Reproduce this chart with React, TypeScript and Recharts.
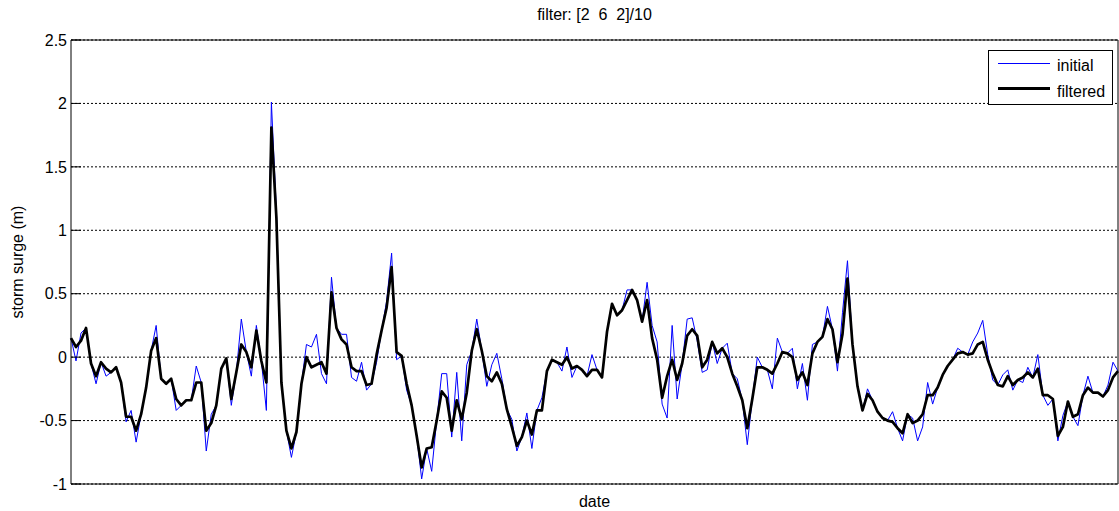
import React from 'react';
import { LineChart, Line, XAxis, YAxis, CartesianGrid, Legend, Label } from 'recharts';

const FONT = '"Liberation Sans", Arial, Helvetica, sans-serif';

const chartTitle = 'filter: [2  6  2]/10';
const xAxisTitle = 'date';
const yAxisTitle = 'storm surge (m)';
const seriesNames = ['initial', 'filtered'];
const yTicks = [-1, -0.5, 0, 0.5, 1, 1.5, 2, 2.5];

// raw storm surge (m), one value per sample
const initialSurge = [
  0.15, -0.03, 0.19, 0.23, -0.05, -0.21, -0.04, -0.15, -0.12, -0.08,
  -0.2, -0.51, -0.42, -0.67, -0.45, -0.24, 0.05, 0.25, -0.17, -0.21,
  -0.17, -0.42, -0.38, -0.34, -0.34, -0.07, -0.2, -0.74, -0.45, -0.38,
  -0.09, -0.01, -0.38, -0.12, 0.3, 0.04, -0.15, 0.25, -0.03, -0.42,
  2.01, 1.15, -0.2, -0.58, -0.79, -0.59, -0.21, 0.1, 0.08, 0.18,
  -0.13, -0.21, 0.63, 0.23, 0.18, 0.18, -0.16, -0.19, -0.04, -0.26,
  -0.21, -0.04, 0.21, 0.44, 0.82, -0.02, 0.01, -0.26, -0.38, -0.62,
  -0.96, -0.72, -0.9, -0.5, -0.13, -0.13, -0.63, -0.12, -0.66, -0.06,
  0.05, 0.3, 0.05, -0.23, -0.06, 0.03, -0.17, -0.41, -0.49, -0.74,
  -0.63, -0.44, -0.72, -0.42, -0.32, -0.11, -0.02, -0.04, -0.11, 0.08,
  -0.16, -0.07, -0.1, -0.15, 0.02, -0.1, -0.16, 0.2, 0.42, 0.33,
  0.37, 0.53, 0.53, 0.45, 0.28, 0.59, 0.25, 0.12, -0.37, -0.48,
  0.25, -0.33, -0.05, 0.3, 0.31, 0.13, -0.12, -0.1, 0.12, -0.05,
  0.07, 0.11, -0.13, -0.17, -0.34, -0.69, -0.33, 0.0, -0.08, -0.1,
  -0.25, 0.15, 0.04, 0.03, 0.07, -0.25, -0.05, -0.34, 0.1, 0.12,
  0.16, 0.4, 0.22, -0.11, 0.35, 0.76, 0.1, -0.23, -0.42, -0.25,
  -0.34, -0.43, -0.48, -0.5, -0.43, -0.56, -0.66, -0.45, -0.48, -0.66,
  -0.55, -0.2, -0.37, -0.24, -0.14, -0.07, -0.02, 0.07, 0.04, 0.02,
  0.12, 0.19, 0.29, 0.02, -0.18, -0.22, -0.14, -0.1, -0.26, -0.18,
  -0.2, -0.08, -0.16, 0.02, -0.3, -0.38, -0.33, -0.66, -0.46, -0.35,
  -0.47, -0.54, -0.3, -0.15, -0.28, -0.28, -0.31, -0.22, -0.04, -0.11,
];

// filtered storm surge (m), one value per sample
const filteredSurge = [
  0.15, 0.08, 0.13, 0.23, -0.05, -0.15, -0.04, -0.09, -0.12, -0.08,
  -0.2, -0.47, -0.47, -0.58, -0.45, -0.24, 0.05, 0.15, -0.17, -0.21,
  -0.17, -0.33, -0.38, -0.34, -0.34, -0.2, -0.2, -0.58, -0.52, -0.38,
  -0.09, -0.01, -0.33, -0.12, 0.1, 0.04, -0.08, 0.21, -0.03, -0.2,
  1.81, 1.1, -0.2, -0.58, -0.72, -0.59, -0.21, 0.0, -0.08, -0.06,
  -0.04, -0.13, 0.51, 0.23, 0.14, 0.1, -0.08, -0.11, -0.11, -0.22,
  -0.21, 0.02, 0.21, 0.39, 0.71, 0.04, 0.01, -0.21, -0.38, -0.62,
  -0.87, -0.72, -0.71, -0.5, -0.27, -0.32, -0.58, -0.34, -0.49, -0.28,
  0.05, 0.22, 0.05, -0.15, -0.19, -0.12, -0.21, -0.41, -0.55, -0.7,
  -0.63, -0.5, -0.61, -0.42, -0.42, -0.11, -0.02, -0.04, -0.06, 0.0,
  -0.09, -0.07, -0.1, -0.15, -0.1, -0.1, -0.16, 0.2, 0.42, 0.33,
  0.37, 0.45, 0.53, 0.45, 0.28, 0.45, 0.15, -0.02, -0.32, -0.15,
  -0.02, -0.18, -0.05, 0.17, 0.22, 0.17, -0.08, -0.02, 0.12, 0.03,
  0.07, 0.0, -0.13, -0.23, -0.34, -0.56, -0.33, -0.08, -0.08, -0.1,
  -0.13, -0.05, 0.04, 0.03, 0.0, -0.18, -0.12, -0.22, 0.03, 0.12,
  0.16, 0.3, 0.22, -0.04, 0.18, 0.62, 0.1, -0.23, -0.42, -0.29,
  -0.34, -0.43, -0.48, -0.5, -0.51, -0.56, -0.6, -0.45, -0.52, -0.5,
  -0.45, -0.3, -0.3, -0.24, -0.14, -0.07, -0.02, 0.03, 0.04, 0.02,
  0.03, 0.1, 0.12, -0.02, -0.13, -0.22, -0.23, -0.15, -0.22, -0.18,
  -0.16, -0.12, -0.16, -0.09, -0.3, -0.3, -0.33, -0.62, -0.55, -0.35,
  -0.47, -0.45, -0.3, -0.24, -0.28, -0.28, -0.31, -0.26, -0.16, -0.11,
];

// sample number along the (unlabelled) date axis
const sampleIndex = filteredSurge.map((_, i) => i);

const data = sampleIndex.map((t, i) => ({
  t,
  initial: initialSurge[i],
  filtered: filteredSurge[i],
}));

const seriesStyle: Record<string, { color: string; width: number }> = {
  initial: { color: '#0000ff', width: 1 },
  filtered: { color: '#000000', width: 2.7 },
};

const EmptyTick = () => <g />;

const TitleLabel = (props: any) => {
  const vb = props.viewBox || {};
  return (
    <text
      x={vb.x + vb.width / 2}
      y={vb.y + vb.height - 20}
      textAnchor="middle"
      fontSize={16}
      fontFamily={FONT}
      fill="#000"
      xmlSpace="preserve"
      style={{ whiteSpace: 'pre' }}
    >
      {chartTitle}
    </text>
  );
};

const XTitleLabel = (props: any) => {
  const vb = props.viewBox || {};
  return (
    <text
      x={vb.x + vb.width / 2}
      y={vb.y + vb.height - 4}
      textAnchor="middle"
      fontSize={16}
      fontFamily={FONT}
      fill="#000"
    >
      {xAxisTitle}
    </text>
  );
};

const YTitleLabel = (props: any) => {
  const vb = props.viewBox || {};
  const cx = vb.x + 23;
  const cy = vb.y + vb.height / 2;
  return (
    <text
      x={cx}
      y={cy}
      transform={`rotate(-90, ${cx}, ${cy})`}
      textAnchor="middle"
      fontSize={16}
      fontFamily={FONT}
      fill="#000"
    >
      {yAxisTitle}
    </text>
  );
};

const LegendBox = (props: any) => {
  const payload = [...(props.payload || [])].sort(
    (a: any, b: any) =>
      seriesNames.indexOf(String(a.value)) - seriesNames.indexOf(String(b.value))
  );
  return (
    <svg width={125} height={55} style={{ display: 'block' }}>
      <rect x={0.5} y={0.5} width={124} height={54} fill="#fff" stroke="#000" strokeWidth={1} />
      {payload.map((p: any, k: number) => {
        const key = String(p.dataKey ?? p.value);
        const st = seriesStyle[key] || { color: p.color, width: 1 };
        const ly = 13.5 + 25 * k;
        return (
          <g key={key}>
            <line x1={10} x2={62} y1={ly} y2={ly} stroke={st.color} strokeWidth={k ? 3 : 1} />
            <text x={69} y={20.7 + 25.8 * k} fontSize={16} fontFamily={FONT} fill="#000">
              {p.value}
            </text>
          </g>
        );
      })}
    </svg>
  );
};

export default function App() {
  return (
    <div style={{ position: 'absolute', left: 0, top: 0, width: 1119, height: 511, background: '#fff' }}>
      <LineChart
        width={1119}
        height={511}
        data={data}
        margin={{ top: 0, right: 0, bottom: 0, left: 0 }}
      >
        <CartesianGrid
          xAxisId="bottom"
          yAxisId="left"
          vertical={false}
          stroke="#000"
          strokeDasharray="2 2"
        />
        <XAxis
          xAxisId="bottom"
          dataKey="t"
          type="number"
          domain={[0, 209]}
          height={27}
          tick={false}
          tickLine={false}
          axisLine={{ stroke: '#000', strokeWidth: 1 }}
        >
          <Label content={<XTitleLabel />} />
        </XAxis>
        <XAxis
          xAxisId="top"
          orientation="top"
          dataKey="t"
          type="number"
          domain={[0, 209]}
          height={40}
          tick={false}
          tickLine={false}
          axisLine={{ stroke: '#000', strokeWidth: 1 }}
        >
          <Label content={<TitleLabel />} />
        </XAxis>
        <YAxis
          yAxisId="left"
          type="number"
          domain={[-1, 2.5]}
          ticks={yTicks}
          interval={0}
          width={71}
          stroke="#000"
          tickSize={-10}
          tickMargin={14}
          tickFormatter={(v: number) => String(v)}
          tick={{ fill: '#000', fontSize: 16, fontFamily: FONT }}
          axisLine={{ stroke: '#000', strokeWidth: 1 }}
          tickLine={{ stroke: '#000', strokeWidth: 1 }}
        >
          <Label content={<YTitleLabel />} />
        </YAxis>
        <YAxis
          yAxisId="right"
          orientation="right"
          type="number"
          domain={[-1, 2.5]}
          ticks={yTicks}
          interval={0}
          width={1}
          stroke="#000"
          tickSize={-10}
          tick={<EmptyTick />}
          axisLine={{ stroke: '#000', strokeWidth: 1 }}
          tickLine={{ stroke: '#000', strokeWidth: 1 }}
        />
        <Legend
          layout="vertical"
          align="center"
          verticalAlign="middle"
          width={125}
          height={55}
          wrapperStyle={{ left: 988, top: 50, width: 125, height: 55 }}
          content={<LegendBox />}
        />
        <Line
          xAxisId="bottom"
          yAxisId="left"
          type="linear"
          dataKey="initial"
          name={seriesNames[0]}
          stroke={seriesStyle.initial.color}
          strokeWidth={seriesStyle.initial.width}
          dot={false}
          activeDot={false}
          isAnimationActive={false}
        />
        <Line
          xAxisId="bottom"
          yAxisId="left"
          type="linear"
          dataKey="filtered"
          name={seriesNames[1]}
          stroke={seriesStyle.filtered.color}
          strokeWidth={seriesStyle.filtered.width}
          strokeLinejoin="round"
          dot={false}
          activeDot={false}
          isAnimationActive={false}
        />
      </LineChart>
    </div>
  );
}
